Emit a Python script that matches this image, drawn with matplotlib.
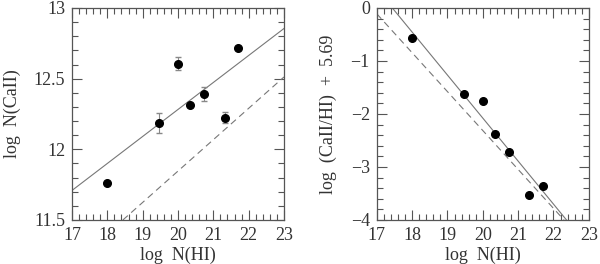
import matplotlib
matplotlib.use("Agg")
import matplotlib.pyplot as plt
from matplotlib.ticker import MultipleLocator

# data
log_nhi = [17.99, 19.46, 20.01, 20.34, 20.75, 21.32, 21.70]
log_ncaii = [11.763, 12.185, 12.607, 12.315, 12.393, 12.225, 12.716]
err_ncaii = [0.0, 0.071, 0.049, 0.0, 0.05, 0.041, 0.0]
ratio = [-0.57, -1.62, -1.75, -2.38, -2.71, -3.52, -3.35]

# fit lines (end points)
left_solid_x = [17.0, 23.0]
left_solid_y = [11.709, 12.855]
left_dash_x = [18.44, 23.0]
left_dash_y = [11.5, 12.512]
right_solid_x = [17.44, 22.37]
right_solid_y = [0.0, -4.0]
right_dash_x = [17.0, 22.30]
right_dash_y = [-0.11, -4.0]

plt.rcParams['font.family'] = 'Liberation Serif'
plt.rcParams['font.size'] = 13
txt = '#333333'
lc = '#777777'

fig = plt.figure(figsize=(6.0, 2.64), dpi=100)
ax1 = fig.add_axes([0.12, 0.1667, 0.3533, 0.803])
ax2 = fig.add_axes([0.628, 0.1667, 0.3533, 0.803])

# left panel
ax1.plot(left_solid_x, left_solid_y, color=lc, lw=0.8)
ax1.plot(left_dash_x, left_dash_y, color=lc, lw=0.8, ls=(0, (6, 4)))
ax1.errorbar(log_nhi, log_ncaii, yerr=err_ncaii, fmt='o', color='black',
             ms=5.5, ecolor='#888888', elinewidth=0.8, capsize=2)
ax1.set_xlim(17, 23)
ax1.set_ylim(11.5, 13)
ax1.xaxis.set_major_locator(MultipleLocator(1))
ax1.xaxis.set_minor_locator(MultipleLocator(0.2))
ax1.yaxis.set_minor_locator(MultipleLocator(0.1))
ax1.set_yticks([11.5, 12, 12.5, 13])
ax1.set_yticklabels(['11.5', '12', '12.5', '13'])
ax1.set_xlabel('log  N(HI)', color=txt, labelpad=2)
ax1.set_ylabel('log  N(CaII)', color=txt, labelpad=9)

# right panel
ax2.plot(right_solid_x, right_solid_y, color=lc, lw=0.8)
ax2.plot(right_dash_x, right_dash_y, color=lc, lw=0.8, ls=(0, (6, 4)))
ax2.plot(log_nhi, ratio, 'o', color='black', ms=5.5)
ax2.set_xlim(17, 23)
ax2.set_ylim(-4, 0)
ax2.xaxis.set_major_locator(MultipleLocator(1))
ax2.xaxis.set_minor_locator(MultipleLocator(0.2))
ax2.yaxis.set_major_locator(MultipleLocator(1))
ax2.yaxis.set_minor_locator(MultipleLocator(0.2))
ax2.set_xlabel('log  N(HI)', color=txt, labelpad=2)
ax2.set_ylabel('log  (CaII/HI)  +  5.69', color=txt, labelpad=10)

for ax in (ax1, ax2):
    ax.tick_params(which='both', direction='in', top=True, right=True,
                   colors='#555555', labelcolor=txt, labelsize=13, pad=5)
    ax.tick_params(which='major', length=7, width=0.8)
    ax.tick_params(which='minor', length=4, width=0.8)
    for s in ax.spines.values():
        s.set_color('#555555')
        s.set_linewidth(0.9)

fig.savefig('out.png', dpi=100)
